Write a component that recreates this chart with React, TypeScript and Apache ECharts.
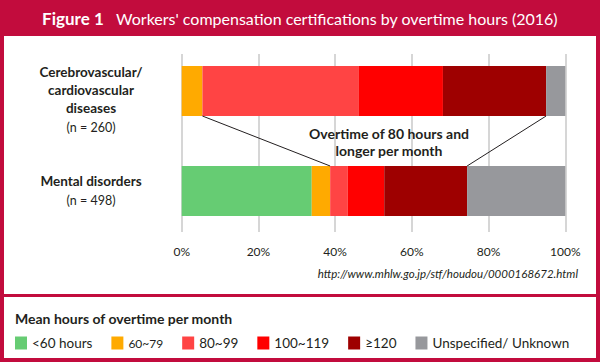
import React, { useEffect, useRef } from "react";
import * as echarts from "echarts";

const categoryLines: string[][] = [
  ["Cerebrovascular/", "cardiovascular", "diseases"],
  ["Mental disorders"],
];
const categories = categoryLines.map((l) => l.join(" "));
const sampleSizes = [260, 498];
const bandNames = ["<60 hours", "60~79", "80~99", "100~119", "≥120", "Unspecified/ Unknown"];
const bandColors = ["#66cc73", "#ffaa00", "#ff4444", "#ff0000", "#9e0000", "#97989c"];
const lt60 = [0, 33.9];
const h60to79 = [5.4, 4.8];
const h80to99 = [40.8, 4.6];
const h100to119 = [21.9, 9.5];
const h120plus = [26.9, 21.6];
const unknown = [5.0, 25.6];
const xTicks = [0, 20, 40, 60, 80, 100];
const titleBold = "Figure 1";
const titleText = "Workers' compensation certifications by overtime hours (2016)";
const sourceUrl = "http://www.mhlw.go.jp/stf/houdou/0000168672.html";
const annotation = ["Overtime of 80 hours and", "longer per month"];
const legendTitle = "Mean hours of overtime per month";

const FONT = "Lato, 'Open Sans', sans-serif";
const CRIMSON = "#c20c3d";
const INK = "#231f20";

export default function App() {
  const ref = useRef<HTMLDivElement>(null);
  useEffect(() => {
    if (!ref.current) return;
    const chart = echarts.init(ref.current, undefined, { renderer: "svg" });
    const seriesData = [lt60, h60to79, h80to99, h100to119, h120plus, unknown];
    // connector positions: start of >=80 band, end of >=120 band, for each category
    const cum = (arr: number[][], i: number, n: number) =>
      arr.slice(0, n).reduce((s, a) => s + a[i], 0);
    const connectors = [
      [cum(seriesData, 0, 2), cum(seriesData, 1, 2), 0],
      [cum(seriesData, 0, 5), cum(seriesData, 1, 5), 0],
    ];
    const barSeries = bandNames.map((name, k) => ({
      name,
      type: "bar",
      stack: "total",
      xAxisIndex: 0,
      yAxisIndex: 0,
      barWidth: "50%",
      itemStyle: { color: bandColors[k] },
      data: seriesData[k],
    }));
    const option: any = {
      animation: false,
      textStyle: { fontFamily: FONT },
      grid: [
        { left: 181.7, right: 34.7, top: 41, height: 200 },
        { left: 181.7, right: 34.7, top: 54, height: 178 },
      ],
      xAxis: [
        { type: "value", gridIndex: 0, min: 0, max: 100, interval: 20, show: false },
        {
          type: "value",
          gridIndex: 1,
          min: 0,
          max: 100,
          interval: 20,
          axisLine: { show: false },
          axisTick: { show: false },
          splitLine: { show: true, lineStyle: { color: "#c9c9c9", width: 1.5 } },
          axisLabel: {
            formatter: (v: number) => (xTicks.includes(v) ? `${v}%` : ""),
            color: INK,
            fontSize: 12,
            fontFamily: FONT,
            margin: 13,
          },
        },
      ],
      yAxis: [
        {
          type: "category",
          gridIndex: 0,
          inverse: true,
          data: categories,
          axisLine: { show: false },
          axisTick: { show: false },
          splitLine: { show: false },
          axisLabel: {
            align: "center",
            margin: 90.7,
            formatter: (v: string) => {
              const i = categories.indexOf(v);
              const lines = categoryLines[i];
              const pre = lines.length > 1 ? "{e| }\n" : "";
              return pre + lines.map((l) => `{b|${l}}`).join("\n") + `\n{n|(n = ${sampleSizes[i]})}`;
            },
            rich: {
              e: { fontSize: 13, lineHeight: 18 },
              b: { fontSize: 13.5, fontWeight: "bold", color: INK, lineHeight: 18, fontFamily: FONT },
              n: { fontSize: 12.5, color: INK, lineHeight: 20, fontFamily: FONT },
            },
          },
        },
        { type: "value", gridIndex: 1, show: false, min: 0, max: 1 },
      ],
      legend: {
        left: 15,
        top: 336,
        padding: 0,
        icon: "rect",
        itemWidth: 12,
        itemHeight: 13,
        itemGap: 19,
        itemStyle: { borderWidth: 0 },
        textStyle: { fontSize: 13.5, color: INK, fontFamily: FONT },
        data: bandNames.map((n, k) => (k === 1 ? { name: n, textStyle: { fontSize: 12 } } : { name: n })),
      },
      series: [
        ...barSeries,
        {
          type: "custom",
          xAxisIndex: 0,
          yAxisIndex: 0,
          z: 5,
          encode: { x: [0, 1], y: 2 },
          data: connectors,
          renderItem: (params: any, api: any) => {
            const top = api.coord([api.value(0), 0]);
            const bot = api.coord([api.value(1), 1]);
            const half = api.size([0, 1])[1] * 0.25;
            return {
              type: "line",
              shape: { x1: top[0], y1: top[1] + half, x2: bot[0], y2: bot[1] - half },
              style: { stroke: INK, lineWidth: 1 },
            };
          },
        },
      ],
      graphic: [
        { type: "rect", z: -10, shape: { x: 0, y: 0, width: 600, height: 362 }, style: { fill: CRIMSON } },
        { type: "rect", z: -9, shape: { x: 4, y: 36, width: 592, height: 258 }, style: { fill: "#ffffff" } },
        { type: "rect", z: -9, shape: { x: 4, y: 297, width: 592, height: 61 }, style: { fill: "#ffffff" } },
        {
          type: "text",
          x: 300,
          y: 18,
          style: {
            text: `{b|${titleBold}}{r|   ${titleText}}`,
            align: "center",
            verticalAlign: "middle",
            fill: "#ffffff",
            rich: {
              b: { fontSize: 17, fontWeight: "bold", fill: "#ffffff", fontFamily: FONT },
              r: { fontSize: 16, fill: "#ffffff", fontFamily: FONT },
            },
          },
        },
        {
          type: "text",
          x: 389,
          y: 142,
          z: 10,
          style: {
            text: annotation.join("\n"),
            align: "center",
            verticalAlign: "middle",
            fontSize: 14,
            fontWeight: "bold",
            lineHeight: 17,
            fill: INK,
            fontFamily: FONT,
          },
        },
        {
          type: "text",
          x: 578,
          y: 273,
          style: {
            text: sourceUrl,
            align: "right",
            verticalAlign: "middle",
            fontSize: 11.5,
            fontStyle: "italic",
            fill: INK,
            fontFamily: FONT,
          },
        },
        {
          type: "text",
          x: 15,
          y: 318,
          style: {
            text: legendTitle,
            align: "left",
            verticalAlign: "middle",
            fontSize: 14,
            fontWeight: "bold",
            fill: INK,
            fontFamily: FONT,
          },
        },
      ],
    };
    chart.setOption(option);
    return () => chart.dispose();
  }, []);
  return (
    <div
      ref={ref}
      style={{ position: "absolute", left: 0, top: 0, width: 600, height: 362 }}
    />
  );
}
